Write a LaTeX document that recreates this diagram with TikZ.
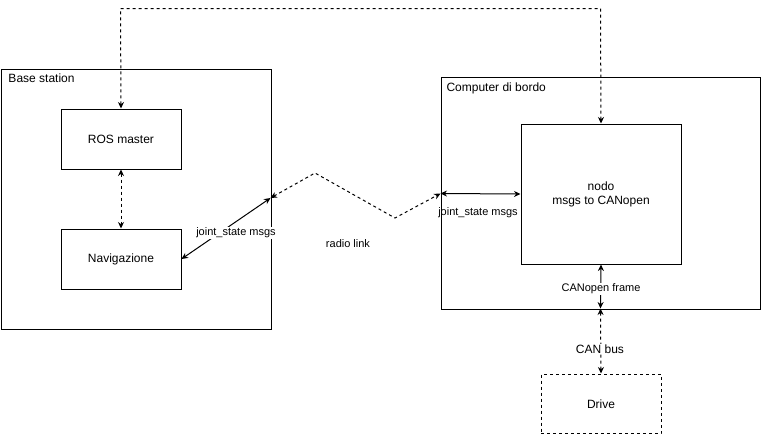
\documentclass[tikz,border=0pt]{standalone}
\usepackage{fontspec}
\setmainfont{Liberation Sans}
\usetikzlibrary{arrows.meta}
\begin{document}
\begin{tikzpicture}[x=1pt,y=-1pt,line width=1pt,
  box/.style={draw,rectangle,anchor=north west,inner sep=0pt,font=\fontsize{12}{14}\selectfont,align=center},
  cont/.style={draw,rectangle,anchor=north west,inner sep=0pt},
  conn/.style={{Stealth[length=6.5pt,width=6pt]}-{Stealth[length=6.5pt,width=6pt]}},
  dsh/.style={dash pattern=on 3pt off 3pt},
  lbl/.style={font=\fontsize{11}{13}\selectfont,inner sep=1pt},
  wlbl/.style={lbl,fill=white}]
\useasboundingbox (0,0) rectangle (761,434);
% containers
\node[cont,minimum width=270pt,minimum height=260pt] (base) at (0.5,68.5) {};
\node[anchor=west,font=\fontsize{12}{14}\selectfont,inner sep=0pt] (basel) at (8,78) {Base station};
\node[cont,minimum width=319.5pt,minimum height=232pt] (comp) at (440.5,76.5) {};
\node[anchor=west,font=\fontsize{12}{14}\selectfont,inner sep=0pt] (compl) at (446,88) {Computer di bordo};
% nodes
\node[box,minimum width=120pt,minimum height=60pt] (ros) at (60.5,108.5) {};
\node[font=\fontsize{12}{14}\selectfont] (rost) at (ros.center) {ROS master};
\node[box,minimum width=120pt,minimum height=60pt] (nav) at (60.5,228.5) {};
\node[font=\fontsize{12}{14}\selectfont] (navt) at (nav.center) {Navigazione};
\node[box,minimum width=160pt,minimum height=140pt] (nodo) at (520.5,123.5) {};
\node[font=\fontsize{12}{14}\selectfont,align=center] (nodot) at (nodo.center) {nodo\\msgs to CANopen};
\node[box,dsh,minimum width=120pt,minimum height=59.5pt] (drive) at (540.5,373.5) {};
\node[font=\fontsize{12}{14}\selectfont] (drivet) at (drive.center) {Drive};
% coordinates
\coordinate (bR) at (270.5,198);
\coordinate (cL) at (440.5,193.5);
\coordinate (z1) at (315,173);
\coordinate (z2) at (395,218);
\coordinate (cB) at (600.5,308.5);
\coordinate (t1) at (120.5,8.5);
\coordinate (t2) at (600.5,8.5);
% connectors
\draw[conn,dsh] (ros.north) -- (t1) -- (t2) -- (nodo.north);
\draw[conn,dsh] (ros.south) -- (nav.north);
\draw[conn] (nav.east) -- (bR);
\draw[conn,dsh] (bR) -- (z1) -- (z2) -- (cL);
\draw[conn] (cL) -- (nodo.west);
\draw[conn] (nodo.south) -- (cB);
\draw[conn,dsh] (cB) -- (drive.north);
% labels
\node[lbl,fill=white] (l1) at (236,233) {joint\_state msgs};
\node[lbl] (l2) at (348,244) {radio link};
\node[lbl] (l3) at (478,213) {joint\_state msgs};
\node[wlbl] (l4) at (601,289) {CANopen frame};
\node[wlbl,font=\fontsize{12}{14}\selectfont] (l5) at (600,349) {CAN bus};
\end{tikzpicture}
\end{document}
